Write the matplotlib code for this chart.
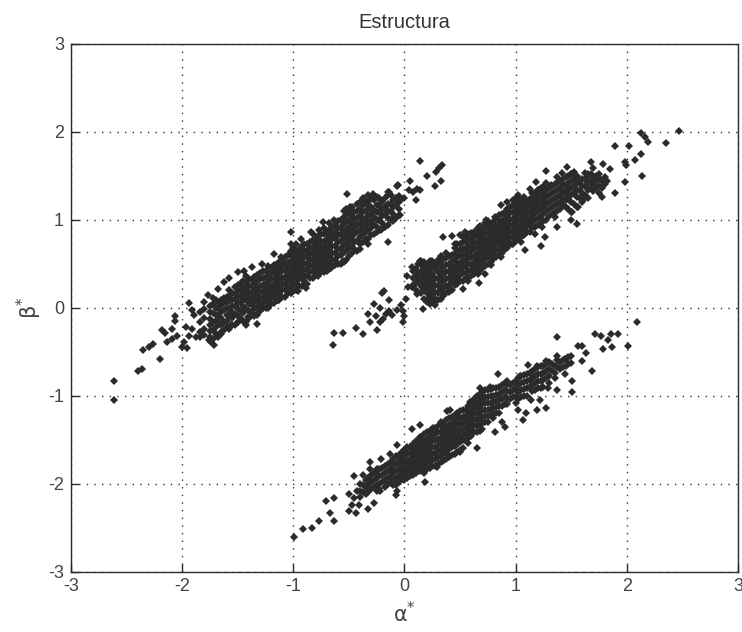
#!/usr/bin/env python
# -*- coding: utf-8 -*-

import matplotlib
matplotlib.use('Agg')
import matplotlib.pyplot as plt

#  Values: (alpha, [beta, beta, ...]) for the dense bands
upper_core = [
    (-1.75, [-0.34, -0.27, -0.20, -0.13, -0.05, 0.02]),
    (-1.70, [-0.30, -0.22, -0.15, -0.08, 0.00, 0.08]),
    (-1.65, [-0.28, -0.20, -0.12, -0.05, 0.03, 0.08]),
    (-1.60, [-0.22, -0.15, -0.08, -0.01, 0.06, 0.12]),
    (-1.55, [-0.20, -0.12, -0.05, 0.02, 0.09, 0.17]),
    (-1.50, [-0.17, -0.10, -0.02, 0.05, 0.12, 0.19, 0.26]),
    (-1.45, [-0.15, -0.06, 0.02, 0.09, 0.16, 0.23, 0.30]),
    (-1.40, [-0.12, -0.04, 0.04, 0.11, 0.18, 0.25, 0.32]),
    (-1.35, [-0.10, -0.02, 0.06, 0.13, 0.20, 0.27, 0.35]),
    (-1.30, [-0.04, 0.04, 0.11, 0.18, 0.25, 0.32, 0.39]),
    (-1.25, [0.00, 0.07, 0.14, 0.21, 0.28, 0.35, 0.41]),
    (-1.20, [0.04, 0.11, 0.18, 0.25, 0.32, 0.39, 0.45]),
    (-1.15, [0.09, 0.16, 0.23, 0.30, 0.37, 0.44, 0.50]),
    (-1.10, [0.12, 0.20, 0.27, 0.34, 0.41, 0.48, 0.54]),
    (-1.05, [0.17, 0.24, 0.31, 0.38, 0.45, 0.52, 0.60]),
    (-1.00, [0.19, 0.26, 0.33, 0.40, 0.47, 0.54, 0.61, 0.68]),
    (-0.95, [0.25, 0.32, 0.39, 0.46, 0.53, 0.60, 0.67]),
    (-0.90, [0.30, 0.37, 0.44, 0.51, 0.58, 0.65, 0.72]),
    (-0.85, [0.33, 0.40, 0.47, 0.54, 0.61, 0.68, 0.75]),
    (-0.80, [0.37, 0.44, 0.51, 0.58, 0.65, 0.72, 0.78]),
    (-0.75, [0.40, 0.48, 0.55, 0.62, 0.69, 0.76, 0.84]),
    (-0.70, [0.42, 0.50, 0.57, 0.64, 0.71, 0.78, 0.86]),
    (-0.65, [0.47, 0.55, 0.62, 0.70, 0.78, 0.85, 0.92]),
    (-0.60, [0.50, 0.58, 0.66, 0.74, 0.82, 0.90, 0.98]),
    (-0.55, [0.53, 0.62, 0.70, 0.78, 0.86, 0.94, 1.02]),
    (-0.50, [0.58, 0.68, 0.76, 0.84, 0.92, 1.00, 1.08]),
    (-0.45, [0.66, 0.74, 0.84, 0.92, 1.00, 1.08]),
    (-0.40, [0.72, 0.80, 0.88, 0.96, 1.04, 1.12, 1.20]),
    (-0.35, [0.78, 0.86, 0.94, 1.02, 1.10, 1.18]),
    (-0.30, [0.82, 0.90, 0.98, 1.06, 1.14, 1.24]),
    (-0.25, [0.86, 0.92, 1.00, 1.08, 1.16, 1.26]),
    (-0.20, [0.90, 0.96, 1.04, 1.12, 1.20]),
    (-0.15, [0.94, 1.02, 1.10, 1.18, 1.28]),
    (-0.10, [0.98, 1.06, 1.14, 1.22]),
    (-0.05, [1.05, 1.12, 1.20, 1.27]),
]

upper_fill = [
    (-1.84, [-0.28, -0.17, -0.33, -0.05]),
    (-1.80, [-0.31, -0.24, -0.12, -0.02, 0.06]),
    (-1.725, [-0.36, -0.25, -0.16, -0.06, 0.04, 0.11]),
    (-1.675, [-0.33, -0.18, -0.10, -0.01, 0.06]),
    (-1.625, [-0.26, -0.16, -0.03, 0.05, 0.11]),
    (-1.575, [-0.24, -0.10, -0.02, 0.07, 0.13, 0.20]),
    (-1.525, [-0.20, -0.07, 0.02, 0.10, 0.15, 0.23]),
    (-1.475, [-0.13, -0.04, 0.06, 0.13, 0.20, 0.28]),
    (-1.425, [-0.16, -0.02, 0.08, 0.14, 0.22, 0.29, 0.36]),
    (-1.375, [-0.07, 0.03, 0.10, 0.17, 0.24, 0.31]),
    (-1.325, [-0.08, 0.01, 0.08, 0.15, 0.22, 0.30, 0.37]),
    (-1.275, [-0.01, 0.05, 0.12, 0.19, 0.26, 0.33, 0.42]),
    (-1.225, [0.02, 0.09, 0.16, 0.23, 0.30, 0.37, 0.47]),
    (-1.175, [0.05, 0.13, 0.21, 0.27, 0.34, 0.41, 0.48]),
    (-1.125, [0.08, 0.17, 0.25, 0.32, 0.39, 0.46, 0.52]),
    (-1.075, [0.12, 0.21, 0.28, 0.35, 0.43, 0.50, 0.57]),
    (-1.025, [0.17, 0.22, 0.30, 0.37, 0.44, 0.51, 0.58, 0.64]),
    (-0.975, [0.20, 0.28, 0.36, 0.43, 0.50, 0.57, 0.64, 0.72]),
    (-0.925, [0.24, 0.34, 0.41, 0.48, 0.55, 0.62, 0.70]),
    (-0.875, [0.27, 0.36, 0.43, 0.50, 0.57, 0.64, 0.72]),
    (-0.825, [0.34, 0.41, 0.48, 0.55, 0.62, 0.69, 0.77, 0.84]),
    (-0.775, [0.36, 0.45, 0.52, 0.59, 0.66, 0.74, 0.81]),
    (-0.725, [0.40, 0.46, 0.53, 0.60, 0.67, 0.75, 0.83, 0.90]),
    (-0.675, [0.44, 0.51, 0.59, 0.66, 0.74, 0.82, 0.88, 0.96]),
    (-0.625, [0.48, 0.54, 0.62, 0.70, 0.79, 0.86, 0.94]),
    (-0.575, [0.50, 0.60, 0.66, 0.76, 0.84, 0.90, 1.00]),
    (-0.525, [0.54, 0.64, 0.72, 0.80, 0.88, 0.97, 1.05, 1.12]),
    (-0.475, [0.62, 0.70, 0.80, 0.88, 0.96, 1.04, 1.14]),
    (-0.425, [0.64, 0.76, 0.86, 0.94, 1.02, 1.10, 1.18]),
    (-0.375, [0.74, 0.84, 0.92, 1.00, 1.08, 1.16]),
    (-0.325, [0.78, 0.88, 0.96, 1.04, 1.12, 1.20, 1.28]),
    (-0.275, [0.84, 0.94, 1.03, 1.11, 1.22]),
    (-0.225, [0.88, 1.00, 1.08, 1.16, 1.24]),
    (-0.175, [0.92, 1.06, 1.14, 1.24]),
    (-0.125, [1.00, 1.10, 1.18, 1.28]),
    (-0.075, [1.02, 1.16, 1.24]),
]

upper_sparse = [
    (-2.61, -0.84), (-2.61, -1.05), (-2.40, -0.72), (-2.36, -0.70),
    (-2.20, -0.58), (-2.35, -0.48), (-2.30, -0.45), (-2.26, -0.42),
    (-2.18, -0.26), (-2.15, -0.29), (-2.09, -0.24), (-2.14, -0.39),
    (-2.09, -0.36), (-2.05, -0.32), (-2.06, -0.10), (-2.06, -0.15),
    (-1.94, 0.05), (-2.00, -0.45), (-1.96, -0.46), (-1.98, -0.39),
    (-1.77, 0.14), (-1.91, -0.03), (-1.89, -0.09), (-1.97, -0.22),
    (-1.91, -0.24), (-1.94, -0.32), (-1.88, -0.34), (-1.76, -0.37),
    (-1.71, -0.43), (-1.43, -0.20), (-1.33, -0.19), (-1.33, -0.07),
    (-0.89, 0.22), (-1.02, 0.86), (-0.73, 0.97), (-0.52, 1.29),
    (-0.15, 0.75), (-0.66, 0.45), (0.14, 1.67), (0.34, 1.62),
    (0.31, 1.58), (0.28, 1.54), (0.20, 1.49), (0.33, 1.44),
    (0.27, 1.38), (0.05, 1.44), (-0.07, 1.38), (0.04, 1.33),
    (0.11, 1.35), (0.14, 1.33), (0.08, 1.31), (0.10, 1.22),
    (-0.04, 1.05), (0.00, 1.25),
    #  Edge of the band
    (-1.68, 0.21), (-1.62, 0.29), (-1.58, 0.33), (-1.50, 0.40),
    (-1.44, 0.42), (-1.37, 0.46), (-1.28, 0.50), (-1.17, 0.61),
    (-1.11, 0.57), (-1.02, 0.72), (-0.93, 0.78), (-0.84, 0.86),
    (-0.77, 0.88), (-0.63, 0.99), (-0.54, 1.10), (-0.49, 1.14),
    (-0.36, 1.23), (-0.27, 1.27), (-0.15, 1.31), (-0.06, 1.39),
    (-1.74, -0.39), (-1.65, -0.30), (-1.56, -0.20), (-1.50, -0.16),
    (-1.41, -0.11), (-1.23, 0.00), (-1.14, 0.08), (-1.02, 0.16),
    (-0.96, 0.19), (-0.90, 0.36), (-0.78, 0.40), (-0.54, 0.52),
    (-0.40, 0.67), (-0.33, 0.72), (-0.21, 0.88), (-0.09, 1.03),
    (-0.28, 1.29), (-0.37, 1.25), (-0.14, 1.31), (-0.04, 1.22),
]

middle_core = [
    (0.10, [0.20, 0.28, 0.36, 0.44]),
    (0.15, [0.16, 0.24, 0.32, 0.40, 0.48]),
    (0.20, [0.08, 0.16, 0.24, 0.32, 0.40, 0.48]),
    (0.25, [0.06, 0.14, 0.22, 0.30, 0.38, 0.46, 0.53]),
    (0.30, [0.08, 0.16, 0.24, 0.32, 0.40, 0.48, 0.54]),
    (0.35, [0.13, 0.22, 0.30, 0.38, 0.46, 0.55]),
    (0.40, [0.18, 0.26, 0.34, 0.42, 0.50, 0.58]),
    (0.45, [0.26, 0.33, 0.40, 0.47, 0.54, 0.61, 0.68]),
    (0.50, [0.30, 0.37, 0.44, 0.51, 0.58, 0.65, 0.72, 0.82]),
    (0.55, [0.33, 0.40, 0.47, 0.54, 0.61, 0.68, 0.75, 0.82]),
    (0.60, [0.36, 0.43, 0.50, 0.57, 0.64, 0.71, 0.78, 0.85]),
    (0.65, [0.40, 0.47, 0.54, 0.61, 0.68, 0.75, 0.82, 0.88]),
    (0.70, [0.45, 0.52, 0.59, 0.66, 0.73, 0.80, 0.87]),
    (0.75, [0.50, 0.57, 0.64, 0.71, 0.78, 0.85, 0.92, 0.98]),
    (0.80, [0.55, 0.62, 0.69, 0.76, 0.83, 0.90, 0.97]),
    (0.85, [0.60, 0.67, 0.74, 0.81, 0.88, 0.95, 1.00]),
    (0.90, [0.66, 0.73, 0.80, 0.87, 0.94, 1.01, 1.08]),
    (0.95, [0.72, 0.79, 0.86, 0.93, 1.00, 1.07, 1.14]),
    (1.00, [0.76, 0.83, 0.90, 0.97, 1.04, 1.11, 1.18, 1.24]),
    (1.05, [0.80, 0.87, 0.94, 1.01, 1.08, 1.15, 1.22]),
    (1.10, [0.86, 0.93, 1.00, 1.07, 1.14, 1.21]),
    (1.15, [0.90, 0.97, 1.04, 1.11, 1.18, 1.25, 1.30]),
    (1.20, [0.94, 1.02, 1.10, 1.18, 1.26, 1.34]),
    (1.25, [0.98, 1.06, 1.14, 1.22, 1.30, 1.37]),
    (1.30, [1.04, 1.12, 1.20, 1.28, 1.36]),
    (1.35, [1.08, 1.16, 1.24, 1.32, 1.40]),
    (1.40, [1.12, 1.20, 1.28, 1.36, 1.44]),
    (1.45, [1.14, 1.22, 1.30, 1.38, 1.48]),
    (1.50, [1.08, 1.20, 1.28, 1.36, 1.44, 1.52]),
    (1.55, [1.14, 1.26, 1.34, 1.42, 1.50]),
    (1.60, [1.20, 1.30, 1.38, 1.46]),
    (1.65, [1.25, 1.34, 1.42, 1.50]),
    (1.70, [1.32, 1.40, 1.48]),
    (1.75, [1.30, 1.38, 1.46, 1.52]),
    (1.80, [1.40, 1.48]),
]

middle_fill = [
    (0.075, [0.26, 0.34, 0.42]),
    (0.125, [0.18, 0.30, 0.38, 0.50]),
    (0.175, [0.10, 0.20, 0.28, 0.36, 0.44, 0.52]),
    (0.225, [0.04, 0.12, 0.20, 0.27, 0.35, 0.43, 0.50]),
    (0.275, [0.03, 0.10, 0.18, 0.26, 0.34, 0.44, 0.50]),
    (0.325, [0.10, 0.20, 0.28, 0.36, 0.43, 0.52, 0.58]),
    (0.375, [0.16, 0.24, 0.32, 0.40, 0.48, 0.56, 0.62]),
    (0.425, [0.20, 0.30, 0.38, 0.46, 0.53, 0.60]),
    (0.475, [0.27, 0.35, 0.43, 0.50, 0.57, 0.64, 0.72]),
    (0.525, [0.30, 0.39, 0.46, 0.53, 0.60, 0.67, 0.74, 0.80]),
    (0.575, [0.35, 0.42, 0.49, 0.56, 0.63, 0.70, 0.77, 0.84]),
    (0.625, [0.38, 0.45, 0.52, 0.59, 0.66, 0.73, 0.80, 0.86]),
    (0.675, [0.42, 0.50, 0.57, 0.64, 0.71, 0.78, 0.85, 0.93]),
    (0.725, [0.47, 0.55, 0.62, 0.69, 0.76, 0.83, 0.90, 0.96]),
    (0.775, [0.52, 0.60, 0.67, 0.74, 0.81, 0.88, 0.95]),
    (0.825, [0.57, 0.65, 0.72, 0.79, 0.86, 0.93, 1.02]),
    (0.875, [0.62, 0.70, 0.77, 0.84, 0.91, 0.98, 1.06]),
    (0.925, [0.68, 0.76, 0.83, 0.90, 0.97, 1.04, 1.12, 1.20]),
    (0.975, [0.72, 0.80, 0.87, 0.94, 1.01, 1.08, 1.16, 1.22]),
    (1.025, [0.78, 0.85, 0.92, 0.99, 1.06, 1.13, 1.20, 1.28]),
    (1.075, [0.82, 0.90, 0.97, 1.04, 1.11, 1.18, 1.26]),
    (1.125, [0.86, 0.95, 1.02, 1.09, 1.16, 1.23]),
    (1.175, [0.92, 1.00, 1.07, 1.14, 1.22, 1.30]),
    (1.225, [0.96, 1.04, 1.12, 1.20, 1.28, 1.36]),
    (1.275, [1.00, 1.10, 1.18, 1.26, 1.34, 1.42]),
    (1.325, [1.06, 1.14, 1.22, 1.30, 1.38]),
    (1.375, [1.10, 1.18, 1.26, 1.34, 1.42, 1.48]),
    (1.425, [1.16, 1.24, 1.32, 1.40, 1.46]),
    (1.475, [1.12, 1.25, 1.34, 1.42, 1.50]),
    (1.525, [1.18, 1.30, 1.38, 1.46, 1.54]),
    (1.575, [1.24, 1.34, 1.42]),
    (1.625, [1.28, 1.38, 1.46, 1.53]),
    (1.675, [1.36, 1.44, 1.52]),
    (1.725, [1.36, 1.44, 1.50]),
    (1.775, [1.36, 1.44]),
]

middle_sparse = [
    (-0.64, -0.43), (-0.63, -0.29), (-0.55, -0.29), (-0.44, -0.23),
    (-0.37, -0.30), (-0.25, -0.25), (-0.31, -0.17), (-0.33, -0.07),
    (-0.26, -0.10), (-0.27, 0.04), (-0.22, 0.00), (-0.20, 0.17),
    (-0.18, 0.19), (-0.14, 0.08), (-0.14, -0.04), (-0.19, -0.13),
    (-0.11, -0.08), (-0.07, -0.03), (-0.01, -0.04), (-0.01, -0.17),
    (0.01, 0.10), (0.03, 0.23), (0.02, 0.36), (0.17, -0.02),
    (-0.17, -0.07), (-0.22, -0.16), (-0.03, 0.03), (0.00, -0.10),
    (0.35, 0.80), (0.43, 0.81), (0.15, 0.53), (0.07, 0.46),
    (0.67, 0.28), (0.53, 0.21), (0.72, 0.38), (1.08, 0.65),
    (1.23, 0.70), (1.37, 0.91), (1.26, 0.80), (1.55, 0.95),
    (1.50, 0.99), (1.35, 1.03), (0.87, 1.16), (0.85, 1.05),
    (0.73, 0.99), (1.13, 1.35), (1.18, 1.43), (1.27, 1.55),
    (1.42, 1.53), (1.46, 1.60), (1.68, 1.65), (1.70, 1.58),
    (1.79, 1.63), (1.85, 1.57), (1.89, 1.83), (2.02, 1.83),
    (1.98, 1.65), (1.99, 1.62), (2.07, 1.68), (2.13, 1.74),
    (2.14, 1.49), (1.98, 1.43), (1.89, 1.30), (1.78, 1.26),
    (2.13, 1.98), (2.16, 1.94), (2.19, 1.88), (2.35, 1.87),
    (2.47, 2.01), (1.82, 1.44),
    #  Edge of the band
    (0.14, 0.53), (0.23, 0.53), (0.33, 0.57), (0.45, 0.72),
    (0.54, 0.86), (0.66, 0.90), (0.73, 0.95), (0.81, 1.03),
    (0.93, 1.10), (1.02, 1.24), (1.08, 1.22), (1.20, 1.33),
    (1.32, 1.39), (1.45, 1.39), (1.50, 1.52), (1.56, 1.46),
    (1.65, 1.52), (1.74, 1.48), (0.07, 0.23), (0.11, 0.15),
    (0.20, 0.06), (0.28, 0.08), (0.34, 0.15), (0.39, 0.23),
    (0.48, 0.30), (0.57, 0.30), (0.66, 0.38), (0.78, 0.48),
    (0.87, 0.57), (0.97, 0.72), (1.05, 0.74), (1.17, 0.84),
    (1.24, 0.91), (1.51, 1.08), (1.56, 1.14), (1.62, 1.25),
]

lower_core = [
    (-0.40, [-2.00, -2.08, -2.15]),
    (-0.35, [-1.96, -2.04, -2.12]),
    (-0.30, [-1.90, -1.98, -2.06]),
    (-0.25, [-1.86, -1.94, -2.02, -2.08]),
    (-0.20, [-1.82, -1.90, -1.98]),
    (-0.15, [-1.78, -1.86, -1.94, -2.00]),
    (-0.10, [-1.72, -1.80, -1.88, -1.96]),
    (-0.05, [-1.68, -1.76, -1.84, -1.92, -1.98]),
    (0.00, [-1.62, -1.69, -1.76, -1.83, -1.90, -1.96]),
    (0.05, [-1.58, -1.65, -1.72, -1.79, -1.86, -1.92]),
    (0.10, [-1.52, -1.59, -1.66, -1.73, -1.80, -1.88]),
    (0.15, [-1.48, -1.55, -1.62, -1.69, -1.76, -1.84]),
    (0.20, [-1.42, -1.49, -1.56, -1.63, -1.70, -1.77, -1.84]),
    (0.25, [-1.38, -1.45, -1.52, -1.59, -1.66, -1.73, -1.80]),
    (0.30, [-1.35, -1.42, -1.49, -1.56, -1.63, -1.70, -1.78]),
    (0.35, [-1.32, -1.39, -1.46, -1.53, -1.60, -1.67, -1.74]),
    (0.40, [-1.26, -1.33, -1.40, -1.47, -1.54, -1.61, -1.70]),
    (0.45, [-1.22, -1.29, -1.36, -1.43, -1.50, -1.57, -1.66]),
    (0.50, [-1.18, -1.25, -1.32, -1.39, -1.46, -1.53, -1.62]),
    (0.55, [-1.16, -1.23, -1.30, -1.37, -1.44, -1.52]),
    (0.60, [-1.10, -1.17, -1.24, -1.31, -1.38, -1.46]),
    (0.65, [-1.00, -1.07, -1.14, -1.21, -1.28, -1.35, -1.42]),
    (0.70, [-0.96, -1.03, -1.10, -1.17, -1.24, -1.31, -1.38]),
    (0.75, [-0.94, -1.02, -1.09, -1.16, -1.23, -1.30]),
    (0.80, [-0.92, -1.00, -1.07, -1.14, -1.21, -1.26]),
    (0.85, [-0.90, -0.98, -1.05, -1.12, -1.20]),
    (0.90, [-0.86, -0.94, -1.02, -1.10]),
    (0.95, [-0.88, -0.96, -1.04]),
    (1.00, [-0.84, -0.92, -1.00, -1.08]),
    (1.05, [-0.78, -0.86, -0.94, -1.02]),
    (1.10, [-0.76, -0.84, -0.92, -1.00]),
    (1.15, [-0.72, -0.80, -0.88, -0.95]),
    (1.20, [-0.68, -0.76, -0.84, -0.92]),
    (1.25, [-0.66, -0.74, -0.82, -0.90]),
    (1.30, [-0.62, -0.70, -0.78, -0.86]),
    (1.35, [-0.66, -0.74, -0.80]),
    (1.40, [-0.62, -0.70]),
    (1.45, [-0.58, -0.66]),
    (1.50, [-0.55, -0.63]),
]

lower_fill = [
    (-0.375, [-2.02, -2.10]),
    (-0.325, [-1.94, -2.00, -2.10]),
    (-0.275, [-1.88, -1.96, -2.04]),
    (-0.225, [-1.84, -1.92, -2.00, -2.06]),
    (-0.175, [-1.80, -1.88, -1.96, -2.04]),
    (-0.125, [-1.75, -1.84, -1.92, -1.99]),
    (-0.075, [-1.70, -1.78, -1.86, -1.94, -2.02]),
    (-0.025, [-1.64, -1.72, -1.80, -1.88, -1.95]),
    (0.025, [-1.60, -1.67, -1.74, -1.81, -1.88, -1.94]),
    (0.075, [-1.55, -1.62, -1.69, -1.76, -1.83, -1.90]),
    (0.125, [-1.50, -1.57, -1.64, -1.71, -1.78, -1.85]),
    (0.175, [-1.44, -1.52, -1.59, -1.66, -1.73, -1.80, -1.88]),
    (0.225, [-1.40, -1.47, -1.54, -1.61, -1.68, -1.75, -1.82]),
    (0.275, [-1.37, -1.44, -1.51, -1.58, -1.65, -1.72, -1.80]),
    (0.325, [-1.34, -1.41, -1.48, -1.55, -1.62, -1.69, -1.76]),
    (0.375, [-1.28, -1.36, -1.43, -1.50, -1.57, -1.64, -1.72]),
    (0.425, [-1.24, -1.31, -1.38, -1.45, -1.52, -1.59, -1.68]),
    (0.475, [-1.20, -1.27, -1.34, -1.41, -1.48, -1.55, -1.64]),
    (0.525, [-1.17, -1.24, -1.31, -1.38, -1.45, -1.50, -1.60]),
    (0.575, [-1.12, -1.20, -1.27, -1.34, -1.41, -1.48, -1.54]),
    (0.625, [-1.04, -1.12, -1.20, -1.27, -1.34, -1.42]),
    (0.675, [-0.98, -1.05, -1.12, -1.19, -1.26, -1.33, -1.40]),
    (0.725, [-0.94, -1.02, -1.09, -1.16, -1.23, -1.30]),
    (0.775, [-0.93, -1.00, -1.08, -1.15, -1.22]),
    (0.825, [-0.91, -0.99, -1.06, -1.13, -1.20]),
    (0.875, [-0.88, -0.96, -1.04, -1.12]),
    (0.925, [-0.87, -0.95, -1.03, -1.10]),
    (0.975, [-0.86, -0.94, -1.02]),
    (1.025, [-0.80, -0.88, -0.96, -1.04]),
    (1.075, [-0.77, -0.85, -0.93, -1.00]),
    (1.125, [-0.74, -0.82, -0.90]),
    (1.175, [-0.70, -0.78, -0.86, -0.94]),
    (1.225, [-0.67, -0.75, -0.83, -0.91]),
    (1.275, [-0.64, -0.72, -0.80]),
    (1.325, [-0.64, -0.72]),
    (1.375, [-0.60, -0.68]),
    (1.425, [-0.60, -0.68]),
    (1.475, [-0.56, -0.64]),
]

lower_sparse = [
    (-0.99, -2.61), (-0.91, -2.52), (-0.83, -2.51), (-0.77, -2.43),
    (-0.67, -2.34), (-0.63, -2.43), (-0.71, -2.20), (-0.63, -2.17),
    (-0.50, -2.12), (-0.50, -2.31), (-0.44, -2.34), (-0.33, -2.29),
    (-0.27, -2.22), (-0.45, -1.91), (-0.41, -2.24), (-0.47, -2.24),
    (-0.45, -2.17), (-0.43, -2.09), (-0.37, -1.90), (-0.31, -1.75),
    (-0.31, -1.83), (-0.21, -1.72), (-0.07, -1.56), (0.07, -1.38),
    (0.14, -1.33), (0.18, -1.98), (-0.07, -2.09), (-0.10, -2.02),
    (0.41, -1.17), (0.33, -1.30), (0.81, -1.41), (0.90, -1.36),
    (0.84, -0.76), (1.11, -0.65), (1.07, -1.28), (1.02, -1.17),
    (1.19, -1.17), (1.27, -1.14), (1.09, -1.20), (1.22, -1.05),
    (1.37, -0.94), (1.51, -0.84), (1.51, -0.96), (1.69, -0.72),
    (1.60, -0.61), (1.37, -0.55), (1.37, -0.34), (1.56, -0.44),
    (1.60, -0.44), (1.63, -0.52), (1.71, -0.30), (1.77, -0.32),
    (1.83, -0.37), (1.86, -0.30), (1.92, -0.30), (1.79, -0.47),
    (1.87, -0.45), (2.01, -0.44), (2.09, -0.17),
    #  Edge of the band
    (-0.25, -1.84), (-0.13, -1.67), (-0.08, -1.69), (0.02, -1.58),
    (0.14, -1.47), (0.26, -1.37), (0.38, -1.18), (0.47, -1.22),
    (0.59, -1.07), (0.68, -0.92), (0.77, -0.90), (0.92, -0.84),
    (1.04, -0.78), (1.19, -0.67), (1.27, -0.61), (1.44, -0.59),
    (-0.22, -2.09), (-0.08, -2.13), (0.14, -1.86), (0.29, -1.81),
    (0.38, -1.67), (0.50, -1.64), (0.65, -1.60), (0.88, -1.30),
    (1.14, -1.05), (1.29, -0.92), (1.44, -0.76),
]

tick_values = [-3, -2, -1, 0, 1, 2, 3]
tick_labels = ['-3', '-2', '-1', '0', '1', '2', '3']

ink = '#2b2b2b'


def collect(core, fill, sparse):
    #  Flatten the column lists and the loose points into x and y lists
    x_vals = []
    y_vals = []
    for x_col, y_col in core + fill:
        for y_val in y_col:
            x_vals.append(x_col)
            y_vals.append(y_val)
    for x_val, y_val in sparse:
        x_vals.append(x_val)
        y_vals.append(y_val)
    return x_vals, y_vals


plt.rcParams['font.family'] = ['Liberation Sans', 'DejaVu Sans']
plt.rcParams['mathtext.fontset'] = 'dejavusans'

fig = plt.figure(figsize=(7.42, 6.32), dpi=100)
ax = fig.add_axes([71 / 742, 1 - 571.5 / 632, 667 / 742, 528 / 632])

for core, fill, sparse in [(upper_core, upper_fill, upper_sparse),
                           (middle_core, middle_fill, middle_sparse),
                           (lower_core, lower_fill, lower_sparse)]:
    x_vals, y_vals = collect(core, fill, sparse)
    ax.plot(x_vals, y_vals, linestyle='none', marker='D', markersize=3.9,
            markeredgewidth=0, color=ink, zorder=3)

ax.set_xlim(-3, 3)
ax.set_ylim(-3, 3)
ax.set_xticks(tick_values)
ax.set_xticklabels(tick_labels)
ax.set_yticks(tick_values)
ax.set_yticklabels(tick_labels)
ax.grid(True, color='#333333', linestyle=(0, (1, 4.5)), linewidth=1.0)
ax.set_axisbelow(True)
ax.tick_params(direction='in', length=5.5, width=1.0, color=ink,
               labelsize=13, labelcolor='#444444', pad=5)
for spine in ax.spines.values():
    spine.set_linewidth(1.0)
    spine.set_color(ink)

ax.set_title('Estructura', fontsize=14.5, color='#333333', pad=11)
ax.set_xlabel(r'$\mathrm{\alpha}^{*}$', fontsize=15, color='#444444',
              labelpad=4)
ax.set_ylabel(r'$\mathrm{\beta}^{*}$', fontsize=15, color='#444444',
              labelpad=3)

plt.savefig('out.png', dpi=100)
